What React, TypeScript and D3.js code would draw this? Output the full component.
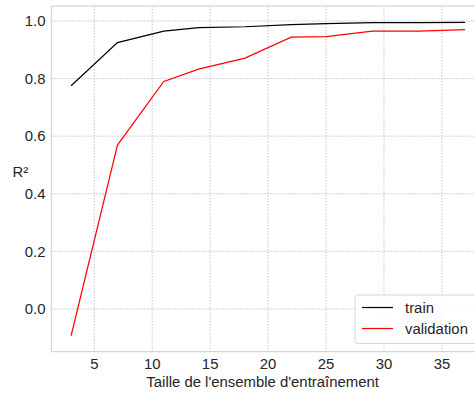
import React from "react";
import * as d3 from "d3";

const trainSizes = [3, 7, 11, 14, 18, 22, 25, 29, 33, 37];
const trainScores = [0.775, 0.925, 0.965, 0.977, 0.98, 0.987, 0.991, 0.994, 0.994, 0.995];
const validationScores = [-0.093, 0.569, 0.79, 0.833, 0.871, 0.944, 0.946, 0.965, 0.965, 0.97];
const xTicks = [5, 10, 15, 20, 25, 30, 35];
const yTicks = [0.0, 0.2, 0.4, 0.6, 0.8, 1.0];
const seriesNames = ["train", "validation"];
const seriesColors = ["#000000", "#ff0000"];

const W = 475;
const H = 394;
const left = 51.4;
const right = 484.8;
const top = 6;
const bottom = 351.6;
const font = "'Liberation Sans', Arial, sans-serif";
const fs = 14.9;

export default function App() {
  const x = d3.scaleLinear().domain([1.3, 38.7]).range([left, right]);
  const y = d3.scaleLinear().domain([-0.148, 1.052]).range([bottom, top]);
  const line = d3
    .line<[number, number]>()
    .x((d) => x(d[0]))
    .y((d) => y(d[1]));
  const series = [trainScores, validationScores].map((vals) =>
    trainSizes.map((s, i) => [s, vals[i]] as [number, number])
  );

  return (
    <svg
      width={W}
      height={H}
      style={{ position: "absolute", left: 0, top: 0, fontFamily: font }}
    >
      <rect x={0} y={0} width={W} height={H} fill="#ffffff" />
      {xTicks.map((t) => (
        <line
          key={"gx" + t}
          x1={x(t)}
          x2={x(t)}
          y1={top}
          y2={bottom}
          stroke="#c4c4c4"
          strokeWidth={1}
          strokeDasharray="1.5,1.5"
        />
      ))}
      {yTicks.map((t) => (
        <line
          key={"gy" + t}
          x1={left}
          x2={right}
          y1={y(t)}
          y2={y(t)}
          stroke="#c4c4c4"
          strokeWidth={1}
          strokeDasharray="1.5,1.5"
        />
      ))}
      <rect
        x={left}
        y={top}
        width={right - left}
        height={bottom - top}
        fill="none"
        stroke="#d6d6d6"
        strokeWidth={1.25}
      />
      {series.map((d, i) => (
        <path
          key={seriesNames[i]}
          d={line(d) || ""}
          fill="none"
          stroke={seriesColors[i]}
          strokeWidth={1.2}
        />
      ))}
      {xTicks.map((t) => (
        <text
          key={"xt" + t}
          x={x(t)}
          y={368.5}
          textAnchor="middle"
          fontSize={fs}
          fill="#262626"
        >
          {t}
        </text>
      ))}
      {yTicks.map((t) => (
        <text
          key={"yt" + t}
          x={45.5}
          y={y(t) + 5.2}
          textAnchor="end"
          fontSize={fs}
          fill="#262626"
        >
          {t.toFixed(1)}
        </text>
      ))}
      <text
        x={(left + right) / 2 - 5.5}
        y={386.5}
        textAnchor="middle"
        fontSize={fs}
        fill="#262626"
      >
        Taille de l'ensemble d'entraînement
      </text>
      <text x={12.5} y={177} fontSize={fs} fill="#262626">
        R²
      </text>
      <rect
        x={355}
        y={295}
        width={122}
        height={48.5}
        rx={3}
        fill="#ffffff"
        fillOpacity={0.8}
        stroke="#d6d6d6"
        strokeWidth={1}
      />
      {seriesNames.map((name, i) => (
        <g key={"lg" + name}>
          <line
            x1={362}
            x2={393}
            y1={307.5 + i * 21}
            y2={307.5 + i * 21}
            stroke={seriesColors[i]}
            strokeWidth={1.2}
          />
          <text x={405} y={312.8 + i * 21} fontSize={fs} fill="#262626">
            {name}
          </text>
        </g>
      ))}
    </svg>
  );
}
